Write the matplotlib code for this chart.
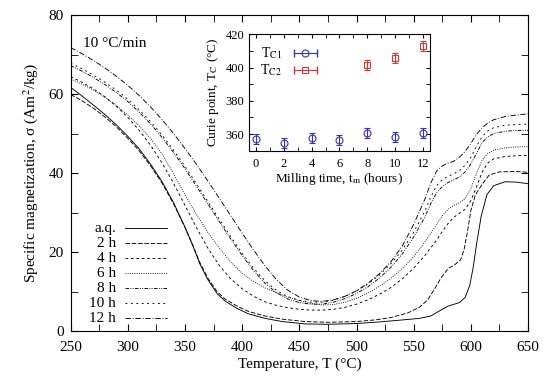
import numpy as np
import matplotlib
matplotlib.use("Agg")
import matplotlib.pyplot as plt
from matplotlib.ticker import MultipleLocator
from matplotlib.lines import Line2D
from matplotlib.legend_handler import HandlerLine2D

plt.rcParams['font.family'] = ['Liberation Serif', 'DejaVu Serif']
plt.rcParams['mathtext.fontset'] = 'stix'

# main data: sigma vs temperature for each milling time
T_aq = [250, 260, 270, 280, 290, 300, 310, 320, 330, 340, 350, 357, 363, 370, 378, 385, 395, 405, 420, 435,
        455, 475, 500, 520, 540, 555, 565, 572, 580, 590, 595, 599, 602, 605, 609, 614, 620, 630, 640, 650]
s_aq = [61.7, 59.5, 57.2, 54.8, 52.2, 49.3, 46.1, 42.2, 37.8, 32.5, 26.3, 21.5, 17, 13, 9.5, 7.6, 5.8, 4.4, 3.2, 2.4,
        1.8, 1.7, 1.9, 2.3, 2.8, 3.2, 3.8, 5, 6.3, 7.2, 8.5, 11.5, 16, 22, 29, 34.5, 36.8, 37.8, 37.7, 37.3]

T_2h = [250, 260, 270, 280, 290, 300, 310, 320, 330, 340, 350, 357, 363, 370, 378, 385, 395, 405, 420, 435,
        455, 475, 500, 516, 530, 545, 555, 562, 568, 574, 580, 586, 591, 594, 597, 600, 604, 610, 616, 625, 640, 650]
s_2h = [59.9, 58.3, 56.4, 54.2, 51.7, 48.8, 45.6, 41.8, 37.4, 32.2, 26.2, 21.6, 17.3, 13.4, 10.0, 8.1, 6.4, 5.0, 3.8, 3.0,
        2.4, 2.2, 2.4, 2.8, 3.4, 4.6, 6.0, 7.8, 10.5, 13.5, 15.8, 16.8, 18, 20.5, 25, 30.5, 34.5, 37.2, 39.5, 40.3, 40.4, 40.2]

T_grid = list(range(250, 561, 10)) + list(range(565, 621, 5)) + [630, 640, 650]
s_4h = [64.4, 63.0, 61.3, 59.3, 56.9, 54.1, 50.8, 47.0, 42.5, 37.4,
        31.8, 26.2, 21.0, 16.6, 13.2, 10.7, 8.8, 7.4, 6.5, 5.9,
        5.5, 5.3, 5.3, 5.5, 6.0, 6.8, 7.9, 9.3, 11.0, 13.2,
        15.9, 19.2,
        21.1, 23.0, 25.2, 27.2, 28.8, 29.8, 30.8, 33.0, 36.5, 40.3, 42.6, 43.6,
        44.2, 44.4, 44.5]
s_6h = [63.8, 62.5, 61.0, 59.2, 57.1, 54.7, 51.9, 48.7, 44.8, 39.8,
        34.5, 29.5, 25.0, 21.0, 17.5, 14.6, 12.5, 10.9, 9.7, 8.6,
        7.7, 7.0, 6.6, 6.7, 7.3, 8.3, 9.6, 11.3, 13.3, 15.8,
        18.8, 22.6,
        24.8, 27.0, 29.2, 30.8, 31.8, 32.5, 33.5, 36.0, 40.0, 43.3, 45.0, 45.8,
        46.4, 46.6, 46.7]
s_8h = [67.2, 65.8, 64.2, 62.4, 60.4, 58.1, 55.4, 52.4, 49.0, 45.2,
        41.1, 36.7, 32.2, 27.7, 23.3, 19.1, 15.3, 12.1, 9.7, 8.1,
        7.2, 6.8, 6.8, 7.3, 8.2, 9.5, 11.2, 13.4, 16.1, 19.5,
        23.8, 29.0,
        32.3, 35.0, 36.6, 37.6, 38.3, 39.0, 40.3, 42.3, 45.0, 47.8, 49.2, 50.0,
        50.6, 50.8, 50.8]
s_10h = [67.8, 66.4, 64.8, 63.0, 61.0, 58.7, 56.0, 53.0, 49.6, 45.8,
         41.7, 37.3, 32.8, 28.3, 23.9, 19.7, 15.9, 12.7, 10.3, 8.7,
         7.8, 7.3, 7.3, 7.8, 8.8, 10.1, 11.9, 14.2, 17.0, 20.5,
         25.0, 30.5,
         34.0, 36.8, 38.3, 39.2, 39.8, 40.6, 42.0, 44.0, 46.8, 49.3, 50.7, 51.5,
         52.1, 52.3, 52.4]
s_12h = [71.8, 70.2, 68.5, 66.6, 64.5, 62.2, 59.6, 56.7, 53.5, 50.0,
         46.2, 42.2, 38.0, 33.6, 29.2, 24.8, 20.5, 16.5, 13.0, 10.3,
         8.6, 7.7, 7.5, 7.9, 8.8, 10.2, 12.1, 14.5, 17.5, 21.5,
         27.0, 33.5,
         37.5, 40.5, 41.8, 42.5, 43.0, 44.0, 45.5, 47.5, 49.8, 51.5, 52.7, 53.5,
         54.3, 54.7, 55.0]

labels = ['a.q.', '2 h', '4 h', '6 h', '8 h', '10 h', '12 h']

# inset data: Curie points vs milling time
tm_c1 = [0, 2, 4, 6, 8, 10, 12]
tc1 = [357, 354.5, 357.5, 356.5, 360.5, 358.5, 360.5]
tm_c2 = [8, 10, 12]
tc2 = [401.5, 405.5, 413]
err_c1 = [3, 3, 3, 3, 3, 3, 3]
err_c2 = [3, 3, 3]

fig = plt.figure(figsize=(5.5, 3.78), dpi=100)
ax = fig.add_axes([0.1285, 0.1243, 0.8315, 0.8357])

styles = ['-', (0, (5, 2)), (0, (3, 3)), (0, (1, 1.5)), (0, (4, 1.5, 1, 1.5, 1, 1.5)), (0, (2, 4)), (0, (6, 2, 1, 2))]
series = [(T_aq, s_aq), (T_2h, s_2h), (T_grid, s_4h), (T_grid, s_6h), (T_grid, s_8h), (T_grid, s_10h), (T_grid, s_12h)]
for i, ((t, s), ls, lab) in enumerate(zip(series, styles, labels)):
    ax.plot(t, s, color='black', lw=0.65, ls=ls)
    # gnuplot-style key: right-aligned label, then sample line
    yk = 0.325 - i * 0.0475
    ax.text(0.099, yk, lab, transform=ax.transAxes, ha='right', va='center', fontsize=11)
    ax.plot([0.119, 0.211], [yk, yk], transform=ax.transAxes, color='black', lw=0.65, ls=ls)

ax.set_xlim(250, 650)
ax.set_ylim(0, 80)
ax.xaxis.set_major_locator(MultipleLocator(50))
ax.xaxis.set_minor_locator(MultipleLocator(25))
ax.yaxis.set_major_locator(MultipleLocator(20))
ax.yaxis.set_minor_locator(MultipleLocator(10))
ax.tick_params(which='both', direction='in', top=True, right=True, labelsize=11, length=5)
ax.tick_params(axis='x', which='both', pad=7)
ax.tick_params(axis='y', which='both', pad=5)
ax.set_xlabel('Temperature, T (°C)', fontsize=11, labelpad=3)
ax.set_ylabel('Specific magnetization, σ (Am$^2$/kg)', fontsize=11, labelpad=6)
ax.text(0.027, 0.911, '10 °C/min', transform=ax.transAxes, fontsize=11, va='center')

# inset
blue = '#3333cc'
red = '#dd3333'
ins = fig.add_axes([0.4527, 0.6013, 0.3291, 0.308])
ins.errorbar(tm_c1, tc1, yerr=err_c1, fmt='o', mfc='none', mec=blue, color=blue,
             ms=5, mew=0.8, elinewidth=0.8, capsize=2.5)
ins.errorbar(tm_c2, tc2, yerr=err_c2, fmt='s', mfc='none', mec=red, color=red,
             ms=5, mew=0.8, elinewidth=0.8, capsize=2.5)
ins.set_xlim(-0.5, 12.5)
ins.set_ylim(350, 420)
ins.xaxis.set_major_locator(MultipleLocator(2))
ins.xaxis.set_minor_locator(MultipleLocator(1))
ins.yaxis.set_major_locator(MultipleLocator(20))
ins.yaxis.set_minor_locator(MultipleLocator(10))
ins.tick_params(which='both', direction='in', top=True, right=True, labelsize=9, length=3)
ins.tick_params(axis='x', which='both', pad=5)
ins.set_xlabel('Milling time, t$_\\mathrm{m}$ (hours)', fontsize=9.5, labelpad=1)
ins.set_ylabel('Curie point, T$_\\mathrm{C}$ (°C)', fontsize=9.5, labelpad=3)

# key samples: horizontal bar with end caps and the marker in the middle
cap1 = Line2D([], [], color=blue, marker='|', ms=6, lw=0.8)
mk1 = Line2D([], [], color=blue, marker='o', mfc='none', ms=5, mew=0.8, ls='none')
cap2 = Line2D([], [], color=red, marker='|', ms=6, lw=0.8)
mk2 = Line2D([], [], color=red, marker='s', mfc='none', ms=5, mew=0.8, ls='none')
ins.legend([(cap1, mk1), (cap2, mk2)], ['T$_{\\mathrm{C1}}$', 'T$_{\\mathrm{C2}}$'],
           handler_map={cap1: HandlerLine2D(numpoints=2), cap2: HandlerLine2D(numpoints=2),
                        mk1: HandlerLine2D(numpoints=1), mk2: HandlerLine2D(numpoints=1)},
           loc='upper left', markerfirst=False, frameon=False, fontsize=10,
           handlelength=2.2, labelspacing=0.1, borderpad=0.3, handletextpad=0.6)

fig.savefig('out.png', dpi=100)
